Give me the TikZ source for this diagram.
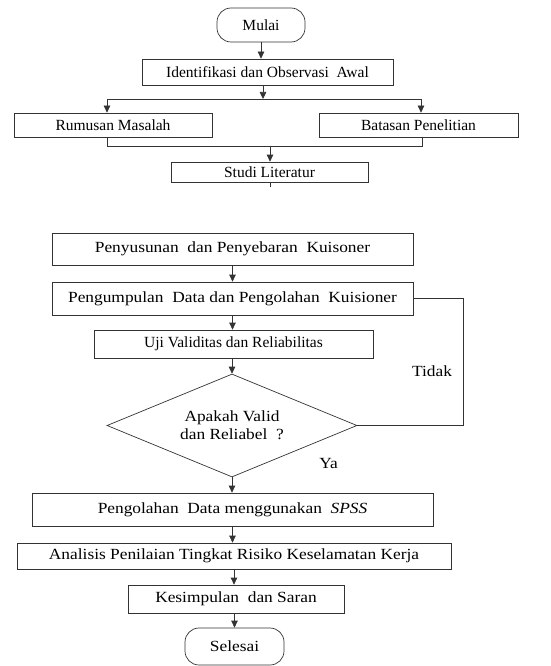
\documentclass[tikz,border=0pt]{standalone}
\usepackage{fontspec}
\setmainfont{Liberation Serif}
\newfontfamily\widefont{Liberation Serif}[FakeStretch=1.12]
\usetikzlibrary{shapes.geometric,arrows.meta,calc}
\begin{document}
\begin{tikzpicture}[x=1pt,y=-1pt,
  font=\fontsize{15.5}{18}\selectfont,
  line/.style={draw=black!80, line width=0.7pt},
  arr/.style={line, -{Triangle[length=7pt,width=6.5pt]}},
  box/.style={line, rectangle, inner sep=0pt},
  term/.style={line, rectangle, rounded corners=14pt, inner sep=0pt},
  decision/.style={line, diamond, shape aspect=2.4, inner sep=0pt, align=center},
  lbl/.style={inner sep=0pt},
  wide/.style={font=\widefont\fontsize{15.5}{18}\selectfont}]
\useasboundingbox (0,0) rectangle (550,666);

\node[term, minimum width=88pt, minimum height=34pt] (mulai) at (261,25) {Mulai};
\node[box, minimum width=251pt, minimum height=26pt] (ident) at (267.5,72) {Identifikasi dan Observasi\ \ Awal};
\node[box, minimum width=198pt, minimum height=24pt] (rum) at (113,125) {Rumusan Masalah};
\node[box, minimum width=199pt, minimum height=24pt] (bat) at (418.5,125) {Batasan Penelitian};
\node[box, minimum width=197pt, minimum height=20pt] (studi) at (269.5,172) {Studi Literatur};

\node[box, wide, minimum width=361pt, minimum height=32pt] (peny) at (232.5,249) {Penyusunan\ \ dan Penyebaran\ \ Kuisoner};
\node[box, wide, minimum width=361pt, minimum height=33pt] (peng) at (232.5,298.5) {Pengumpulan\ \ Data dan Pengolahan\ \ Kuisioner};
\node[box, minimum width=279pt, minimum height=28pt] (uji) at (233.5,344) {Uji Validitas dan Reliabilitas};
\node[decision, wide, minimum width=250pt, minimum height=103pt] (dia) at (232,425.5) {Apakah Valid\\dan Reliabel\ \ ?};
\node[lbl, wide] (tidak) at (432,371) {Tidak};
\node[lbl, wide] (ya) at (328.5,463) {Ya};
\node[box, wide, minimum width=401pt, minimum height=33pt] (olah) at (232.5,509.5) {Pengolahan\ \ Data menggunakan\ \ \textit{SPSS}};
\node[box, wide, minimum width=434pt, minimum height=26pt] (anal) at (234,556) {Analisis Penilaian Tingkat Risiko Keselamatan Kerja};
\node[box, wide, minimum width=216pt, minimum height=28pt] (kes) at (236,599) {Kesimpulan\ \ dan Saran};
\node[term, wide, minimum width=99pt, minimum height=37pt] (sel) at (234.5,646.5) {Selesai};

% top part
\draw[arr] (mulai.south) -- (mulai.south |- ident.north);
\coordinate (split) at (263,99);
\coordinate (bl) at (107,99);
\coordinate (br) at (421,99);
\draw[arr] (split |- ident.south) -- (split);
\draw[line] (bl) -- (br);
\draw[arr] (bl) -- (bl |- rum.north);
\draw[arr] (br) -- (br |- bat.north);
\coordinate (jl) at (107,146);
\coordinate (jr) at (422,146);
\coordinate (join) at (270,146);
\draw[line] (jl |- rum.south) -- (jl) -- (jr) -- (jr |- bat.south);
\draw[arr] (join) -- (join |- studi.north);
\coordinate (stub) at (270,187);
\draw[line] (stub |- studi.south) -- (stub);

% lower part
\draw[arr] (peny.south) -- (peny.south |- peng.north);
\draw[arr] (peng.south) -- (peng.south |- uji.north);
\draw[arr] (uji.south -| dia.north) -- (dia.north);
\coordinate (loop) at (463,298.5);
\draw[line] (peng.east) -- (loop) -- (loop |- dia.east) -- (dia.east);
\draw[arr] (dia.south) -- (dia.south |- olah.north);
\draw[arr] (olah.south) -- (olah.south |- anal.north);
\draw[arr] (anal.south) -- (anal.south |- kes.north);
\draw[arr] (kes.south -| sel.north) -- (sel.north);
\end{tikzpicture}
\end{document}
